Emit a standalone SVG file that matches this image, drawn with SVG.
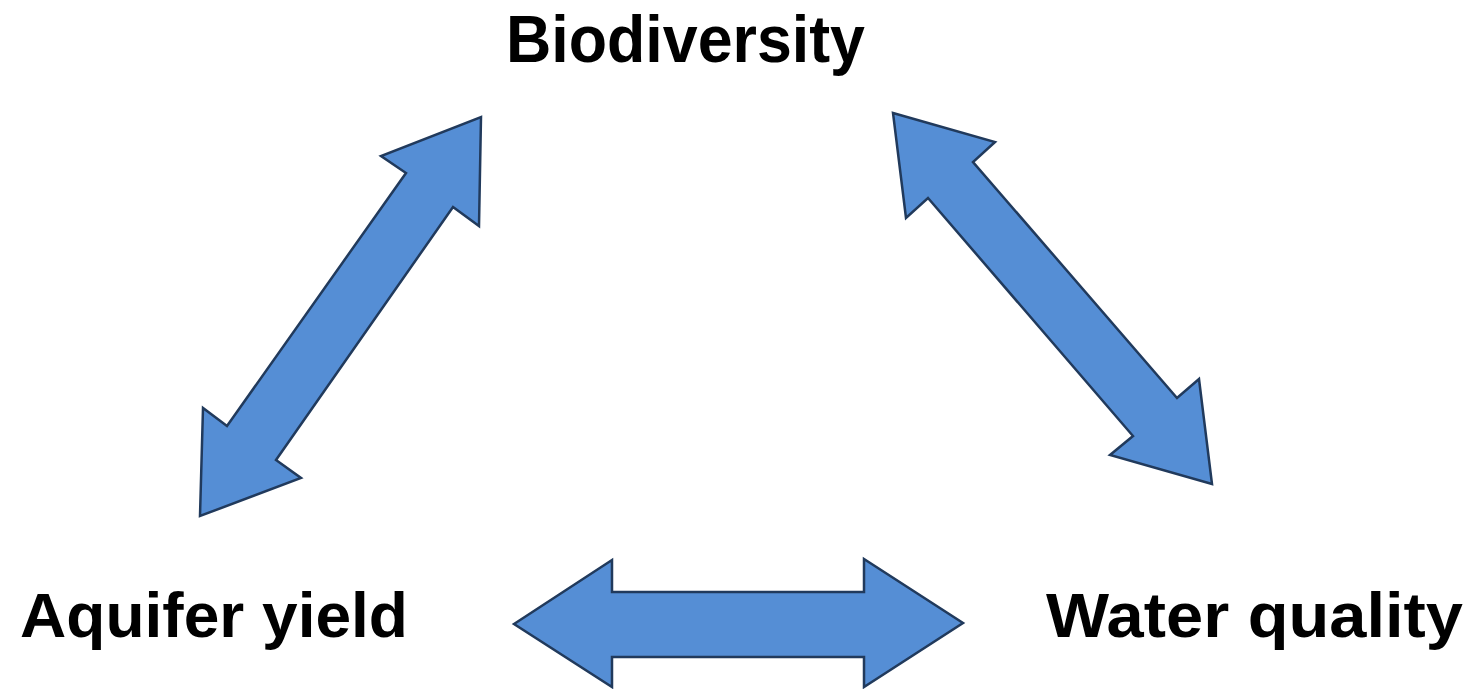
<svg xmlns="http://www.w3.org/2000/svg" width="1472" height="689" viewBox="0 0 1472 689">
<style>
.lbl{font-family:"Liberation Sans",Arial,sans-serif;font-weight:bold;fill:#000}
.arr{fill:#558ED5;stroke:#213A5C;stroke-width:2.5;stroke-linejoin:miter}
</style>
<rect width="1472" height="689" fill="#fff"/>
<g id="connectors">
<polygon class="arr" points="481,117 479,226 453,207 276,460 301,478 200,516 203,408 227,426 406,173 381,156"/>
<polygon class="arr" points="893,113 995,142 973,162 1177,398 1199,379 1212,484 1110,455 1133,436 928,198 906,218"/>
<polygon class="arr" points="514,624 612,560 612,592 864,592 864,559 963,623 864,687 864,657 612,657 612,687"/>
</g>
<g id="node-biodiversity"><text class="lbl" x="506" y="62" font-size="66" textLength="359" lengthAdjust="spacingAndGlyphs">Biodiversity</text></g>
<g id="node-aquifer"><text class="lbl" x="20" y="637" font-size="63" textLength="388" lengthAdjust="spacingAndGlyphs">Aquifer yield</text></g>
<g id="node-water"><text class="lbl" x="1046" y="637" font-size="63" textLength="417" lengthAdjust="spacingAndGlyphs">Water quality</text></g>
</svg>
